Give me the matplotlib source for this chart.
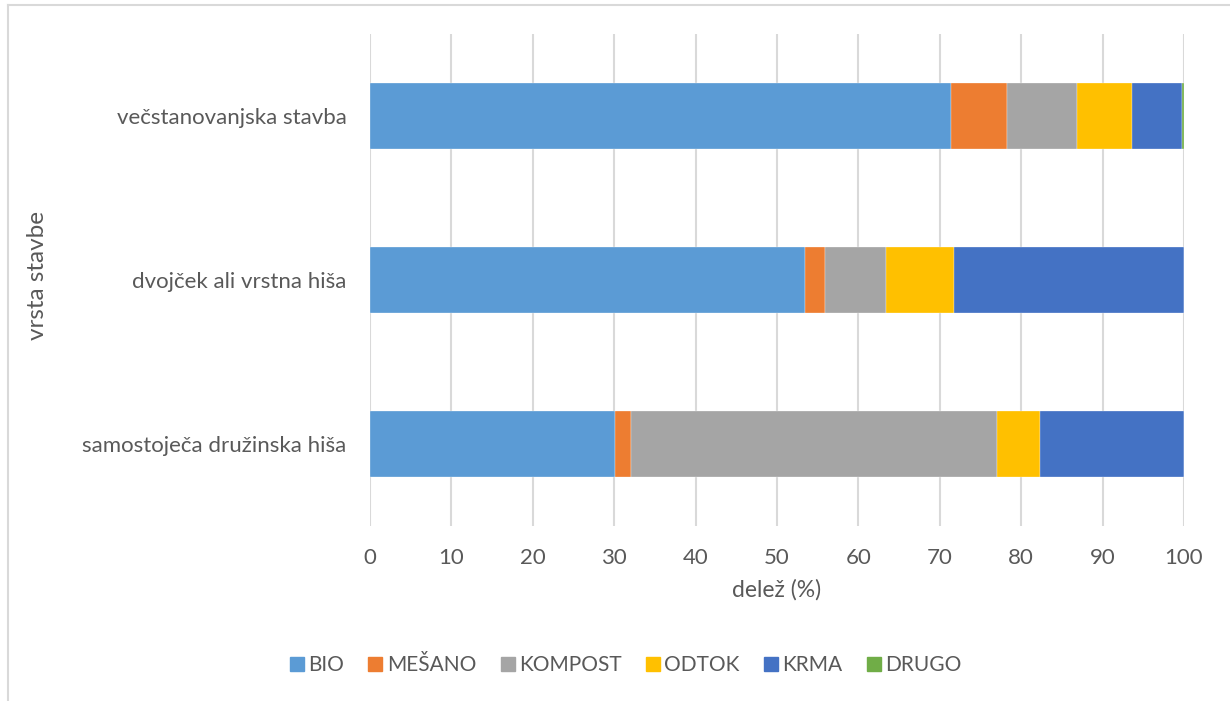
import numpy as np
import matplotlib.pyplot as plt
from matplotlib.lines import Line2D

# vrsta stavbe (od spodaj navzgor)
kategorije = ["samostoječa družinska hiša", "dvojček ali vrstna hiša", "večstanovanjska stavba"]
serije = ["BIO", "MEŠANO", "KOMPOST", "ODTOK", "KRMA", "DRUGO"]

bio = [30.1, 53.5, 71.4]
mesano = [2.0, 2.4, 6.8]
kompost = [44.9, 7.5, 8.7]
odtok = [5.3, 8.4, 6.7]
krma = [17.7, 28.2, 6.1]
drugo = [0.0, 0.0, 0.3]

barve = ["#5B9BD5", "#ED7D31", "#A5A5A5", "#FFC000", "#4472C4", "#70AD47"]
x_ticks = list(range(0, 101, 10))

plt.rcParams["font.family"] = ["Lato", "DejaVu Sans"]
SIVA = "#595959"

fig = plt.figure(figsize=(12.3, 7.01), dpi=100)
ax = fig.add_axes([370 / 1230, 175 / 701, 814 / 1230, 492 / 701])

y = np.arange(len(kategorije))
levo = np.zeros(len(kategorije))
for ime, vrednosti, barva in zip(serije, [bio, mesano, kompost, odtok, krma, drugo], barve):
    ax.barh(y, vrednosti, left=levo, height=0.4, color=barva, label=ime,
            edgecolor="white", linewidth=0.2, zorder=3)
    levo += np.array(vrednosti)

ax.set_xlim(0, 100)
ax.set_ylim(-0.5, 2.5)
ax.set_xticks(x_ticks)
ax.set_yticks(y)
ax.set_yticklabels(kategorije)
ax.grid(axis="x", color="#D9D9D9", linewidth=1.5, zorder=0)
for s in ax.spines.values():
    s.set_visible(False)
ax.tick_params(axis="both", length=0, colors=SIVA, labelsize=16)
ax.tick_params(axis="x", pad=16)
ax.tick_params(axis="y", pad=17)

ax.set_xlabel("delež (%)", fontsize=16.5, color=SIVA, labelpad=8)
fig.text(37 / 1230, 1 - 275 / 701, "vrsta stavbe", rotation=90, fontsize=17.5,
         color=SIVA, ha="center", va="center")

handles = [Line2D([0], [0], marker="s", linestyle="none", markersize=10,
                  markerfacecolor=b, markeredgecolor=b) for b in barve]
fig.legend(handles, serije, loc="center", bbox_to_anchor=(624 / 1230, 1 - 665 / 701),
           ncol=6, frameon=False, fontsize=15, labelcolor=SIVA,
           handletextpad=0.05, columnspacing=1.0, handlelength=1.0)

# okvir grafikona
fig.add_artist(Line2D([8 / 1230, 1], [1 - 5 / 701, 1 - 5 / 701], color="#D9D9D9", linewidth=1.5))
fig.add_artist(Line2D([8 / 1230, 8 / 1230], [0, 1 - 5 / 701], color="#D9D9D9", linewidth=1.5))

fig.savefig("out.png", dpi=100)
